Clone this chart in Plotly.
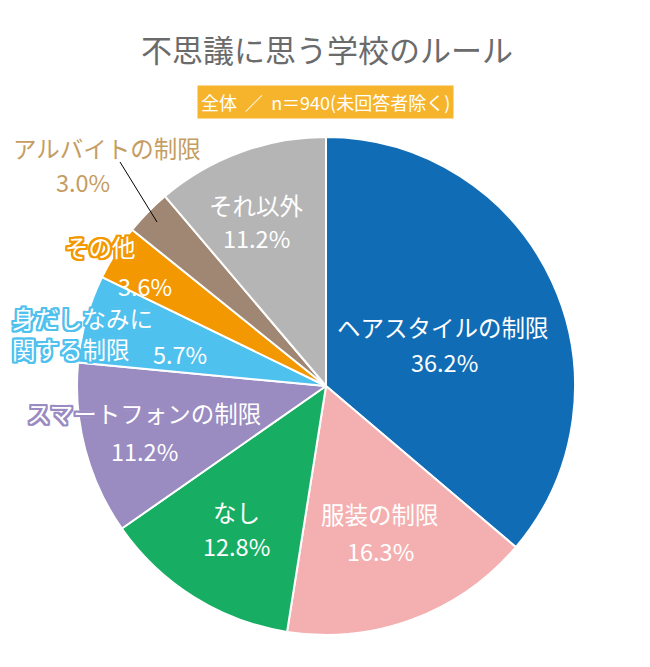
import plotly.graph_objects as go

categories = ["ヘアスタイルの制限", "服装の制限", "なし", "スマートフォンの制限",
              "身だしなみに関する制限", "その他", "アルバイトの制限", "それ以外"]
values = [36.2, 16.3, 12.8, 11.2, 5.7, 3.6, 3.0, 11.2]
colors = ["#116cb6", "#f4b0b1", "#17ae63", "#9a8bc1", "#4fc1ee", "#f39800", "#a08773", "#b5b5b5"]

W, H = 650, 667
OFF = 8  # page body margin
FONT = "Noto Sans CJK JP"
FS = 23.5


def px(x, y):
    return (x - OFF) / W, 1 - (y - OFF) / H


dx0, dy1 = px(77, 137)
dx1, dy0 = px(575, 635)
fig = go.Figure(go.Pie(
    labels=categories, values=values, sort=False, direction="clockwise", rotation=0,
    marker=dict(colors=colors, line=dict(color="white", width=2)),
    textinfo="none", hoverinfo="label+percent",
    domain=dict(x=[dx0, dx1], y=[dy0, dy1]),
    showlegend=False,
))


def outline(c, r=2):
    offs = [(-r, -r), (r, -r), (-r, r), (r, r), (0, r), (0, -r), (r, 0), (-r, 0),
            (-1, -r), (1, -r), (-1, r), (1, r), (r, 1), (r, -1), (-r, 1), (-r, -1)]
    inner = ", ".join(f"{a}px {b}px 0 {c}" for a, b in offs)
    return inner + ", 0 0 3px white, 0 0 3px white"


anns = []


def add(text, x, y, color="white", size=FS, align="center", xanchor="center", shadow=None):
    fx, fy = px(x, y)
    f = dict(family=FONT, size=size, color=color)
    if shadow:
        f["shadow"] = shadow
    anns.append(dict(text=text, x=fx, y=fy, xref="paper", yref="paper", showarrow=False,
                     xanchor=xanchor, yanchor="middle", align=align, font=f))


fmt = lambda v: f"{v:.1f}%"

add(categories[0], 443, 327); add(fmt(values[0]), 444, 362)
add(categories[1], 380, 514); add(fmt(values[1]), 380, 551)
add(categories[2], 236, 512); add(fmt(values[2]), 236, 546)
add(categories[3], 144, 413, shadow=outline(colors[3])); add(fmt(values[3]), 144, 451)
add(categories[4][:6], 10, 318, align="left", xanchor="left", shadow=outline(colors[4]))
add(categories[4][6:], 10, 349, align="left", xanchor="left", shadow=outline(colors[4]))
add(fmt(values[4]), 180, 354)
add(categories[5], 100, 247, shadow=outline(colors[5])); add(fmt(values[5]), 145, 286)
add(categories[6], 107, 148, color="#c59d62"); add(fmt(values[6]), 83, 182, color="#c59d62")
add(categories[7], 256, 205); add(fmt(values[7]), 256, 238)

x0, y0 = px(120, 162)
x1, y1 = px(157, 222)
shapes = [dict(type="line", xref="paper", yref="paper", x0=x0, y0=y0, x1=x1, y1=y1,
               line=dict(color="black", width=1))]

tx, ty = px(327, 48)
anns.append(dict(text="不思議に思う学校のルール", x=tx, y=ty, xref="paper", yref="paper",
                 showarrow=False, xanchor="center", yanchor="middle",
                 font=dict(family=FONT, size=31, color="#6b6b6b")))
sx, sy = px(325, 102)
anns.append(dict(text="全体&nbsp;&nbsp;／&nbsp;&nbsp;n＝940(未回答者除く)", x=sx, y=sy,
                 xref="paper", yref="paper",
                 showarrow=False, xanchor="center", yanchor="middle",
                 bgcolor="#f6b42c", borderpad=3,
                 font=dict(family=FONT, size=18, color="white")))

fig.update_layout(width=W, height=H, margin=dict(l=0, r=0, t=0, b=0),
                  paper_bgcolor="white", plot_bgcolor="white",
                  annotations=anns, shapes=shapes)
fig.write_html("out.html")
